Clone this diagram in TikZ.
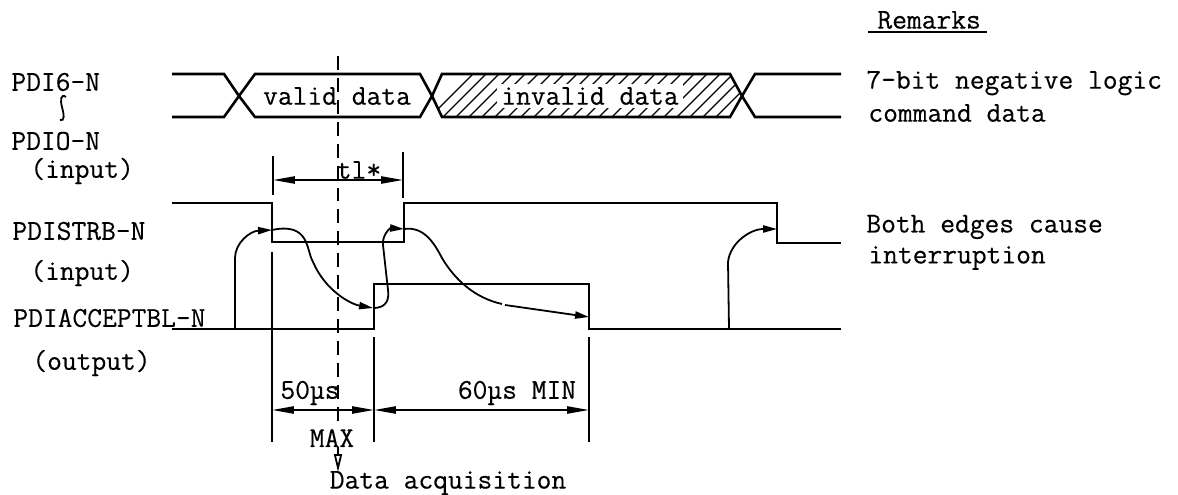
\documentclass[tikz,border=0pt]{standalone}
\usepackage{fontspec}
\setmonofont{Latin Modern Mono}[FakeBold=0.35]
\usetikzlibrary{arrows.meta}
\tikzset{
  wave/.style={line width=1.3pt},
  thin line/.style={line width=0.9pt},
  hatch line/.style={line width=0.7pt},
  label text/.style={font=\ttfamily\fontsize{14.4}{16}\selectfont,inner sep=0pt,anchor=west},
  mid text/.style={font=\ttfamily\fontsize{14.4}{16}\selectfont,inner sep=0pt},
  dim tip/.style={{Stealth[length=11pt,width=3.6pt,inset=0pt]}-{Stealth[length=11pt,width=3.6pt,inset=0pt]}},
  flow tip/.style={-{Stealth[length=7pt,width=3.6pt,inset=0pt]}},
}
\begin{document}
\begin{tikzpicture}[x=0.5bp,y=-0.5bp]
\useasboundingbox (0,0) rectangle (1178,495);

% data lines
\coordinate (dl1) at (172,74);
\coordinate (dl2) at (172,117);
\coordinate (x1) at (239,96);
\coordinate (x2) at (432,96);
\coordinate (x3) at (742,96);

\begin{scope}
\clip (442,74) -- (730,74) -- (x3) -- (730,117) -- (442,117) -- (x2) -- cycle;
\foreach \i in {0,...,28} {
  \draw[hatch line] (425+13*\i,122) -- (475+13*\i,72);
}
\end{scope}

\draw[wave] (dl1) -- (224,74) -- (x1) -- (255,117) -- (420,117) -- (x2) -- (442,74) -- (730,74) -- (x3) -- (755,117) -- (841,117);
\draw[wave] (dl2) -- (224,117) -- (x1) -- (255,74) -- (420,74) -- (x2) -- (442,117) -- (730,117) -- (x3) -- (755,74) -- (841,74);

\node[mid text] (valid) at (337,96) {valid data};
\node[mid text,fill=white,minimum height=12bp,inner xsep=2pt] (invalid) at (590,96) {invalid data};

% strobe and accept
\draw[wave] (172,203) -- (272,203) -- (272,242) -- (404,242) -- (404,203) -- (777,203) -- (777,243) -- (841,243);
\draw[wave] (172,329) -- (374,329) -- (374,284) -- (589,284) -- (589,329) -- (841,329);

% cause and effect
\draw[thin line,flow tip] (235,329) -- (235,258) .. controls (235,243) and (250,231) .. (272,230);
\draw[thin line,flow tip] (272,230) .. controls (310,222) and (306,250) .. (313,262) .. controls (325,290) and (350,304) .. (373,308);
\draw[thin line,flow tip] (373,308) .. controls (388,308) and (389,298) .. (388,290) -- (383,245) .. controls (382,235) and (390,228) .. (404,229);
\draw[thin line] (404,229) .. controls (425,226) and (435,245) .. (442,258) .. controls (455,280) and (475,298) .. (502,304);
\draw[thin line,flow tip] (505,305) -- (589,317);
\draw[thin line,flow tip] (729,329) -- (728,262) .. controls (730,243) and (750,229) .. (777,229);

% timing marks
\draw[thin line] (273,156) -- (273,195);
\draw[thin line] (403,152) -- (403,198);
\draw[thin line,dim tip] (273,180) -- (403,180);
\node[mid text] (tl) at (359,170) {tl*};

\draw[thin line] (272,252) -- (272,442);
\draw[thin line] (374,337) -- (374,442);
\draw[thin line] (589,337) -- (589,442);
\draw[thin line,dim tip] (272,410) -- (374,410);
\draw[thin line,dim tip] (374,410) -- (589,410);
\node[mid text] (t50) at (310,393) {50µs};
\node[mid text] (t60) at (517,393) {60µs MIN};
\node[mid text] (max) at (332,438) {MAX};
\node[mid text] (acq) at (448,483) {Data acquisition};

\coordinate (dtop) at (338,56);
\coordinate (dbot) at (338,428);
\coordinate (atop) at (338,447);
\coordinate (abot) at (338,472);
\draw[thin line,dash pattern=on 7pt off 4pt] (dtop) -- (dbot);
\draw[thin line,-{Stealth[open,length=9pt,width=4pt,inset=0pt]}] (atop) -- (abot);

% signal names
\node[label text] (n1) at (11,82) {PDI6-N};
\node[label text] (n2) at (11,141) {PDIO-N};
\node[label text] (n3) at (30,171) {(input)};
\node[label text] (n4) at (12,231) {PDISTRB-N};
\node[label text] (n5) at (30,273) {(input)};
\node[label text] (n6) at (13,318) {PDIACCEPTBL-N};
\node[label text] (n7) at (32,363) {(output)};
\draw[thin line] (66,97) .. controls (61,93) and (60,100) .. (62,107) .. controls (64,114) and (65,122) .. (60,120);

% remarks
\node[label text] (rem) at (877,20) {Remarks};
\coordinate (u1) at (868,32);
\coordinate (u2) at (987,32);
\draw[thin line] (u1) -- (u2);
\node[label text] (r1) at (866,83) {7-bit negative logic};
\node[label text] (r2) at (868,113) {command data};
\node[label text] (r3) at (866,227) {Both edges cause};
\node[label text] (r4) at (868,258) {interruption};
\end{tikzpicture}
\end{document}
